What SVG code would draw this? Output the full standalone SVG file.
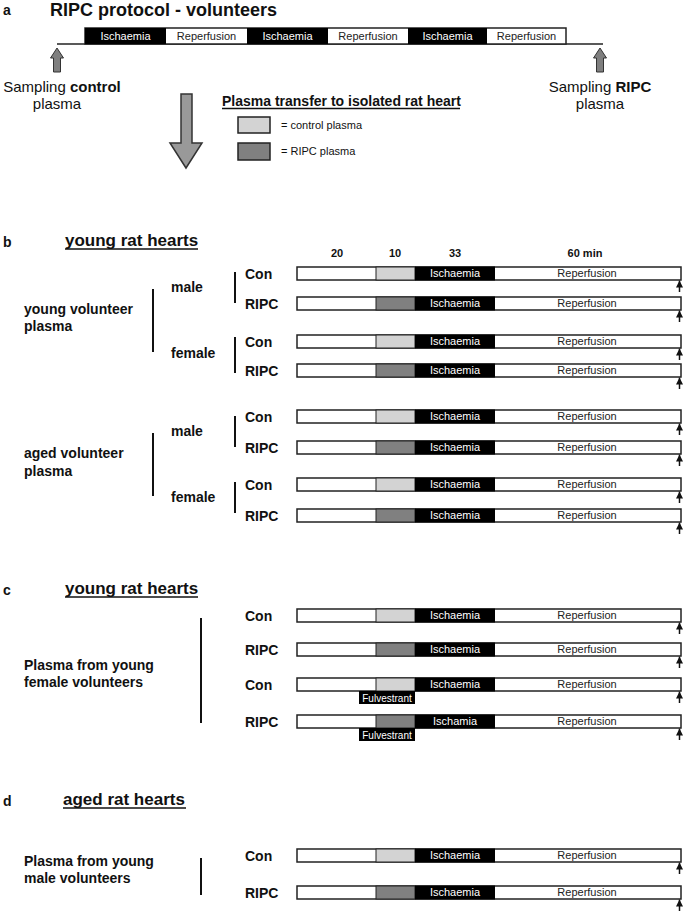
<svg xmlns="http://www.w3.org/2000/svg" width="685" height="912" viewBox="0 0 685 912">
<style>
text{font-family:"Liberation Sans",Arial,sans-serif;fill:#111}
.h{font-weight:bold;font-size:17px}
.lt{font-weight:bold;font-size:14px}
.lbl{font-weight:bold;font-size:14px}
.num{font-weight:bold;font-size:11px;text-anchor:middle}
.bt{font-size:11px;text-anchor:middle}
.w{fill:#fff}
.dk{fill:#222}
.leg{font-size:11px}
.bar{fill:#fff;stroke:#222;stroke-width:1.5}
.ctl{fill:#d3d3d3;stroke:#222;stroke-width:1}
.rip{fill:#808080;stroke:#222;stroke-width:1}
.isch{fill:#000}
.brk{stroke:#111;stroke-width:2}
.ul{stroke:#111;stroke-width:1.3}
.arr{stroke:#111;stroke-width:1.5;marker-end:url(#ah)}
.garr{fill:#7f7f7f;stroke:#333;stroke-width:1}
.fv{font-size:10px;text-anchor:middle;fill:#fff}
</style>
<defs>
<marker id="ah" viewBox="0 0 8 8" refX="8" refY="4" markerWidth="7" markerHeight="7" markerUnits="userSpaceOnUse" orient="auto">
<path d="M0,0 L8,4 L0,8 z" fill="#111"/>
</marker>
</defs>

<!-- Section a -->
<g id="sec-a">
<text x="3" y="15" class="lt">a</text>
<text x="50" y="16" class="h" style="font-size:18px">RIPC protocol - volunteers</text>
<line x1="57" y1="44" x2="603" y2="44" stroke="#222" stroke-width="1.5"/>
<rect x="85" y="28" width="481" height="16" class="bar"/>
<rect x="85" y="28" width="81" height="16" class="isch"/>
<rect x="247" y="28" width="81" height="16" class="isch"/>
<rect x="408" y="28" width="79" height="16" class="isch"/>
<text x="125.5" y="40" class="bt w">Ischaemia</text>
<text x="206.5" y="40" class="bt dk">Reperfusion</text>
<text x="287.5" y="40" class="bt w">Ischaemia</text>
<text x="368" y="40" class="bt dk">Reperfusion</text>
<text x="447.5" y="40" class="bt w">Ischaemia</text>
<text x="526.5" y="40" class="bt dk">Reperfusion</text>
</g>
<g id="sample-control">
<path class="garr" d="M57,48 L63.5,58 L60.5,58 L60.5,72 L53.5,72 L53.5,58 L50.5,58 Z"/>
<text x="62" y="92" style="font-size:15px;text-anchor:middle">Sampling <tspan font-weight="bold">control</tspan></text>
<text x="57" y="109" style="font-size:15px;text-anchor:middle">plasma</text>
</g>
<g id="sample-ripc">
<path class="garr" d="M600,48 L606.5,58 L603.5,58 L603.5,72 L596.5,72 L596.5,58 L593.5,58 Z"/>
<text x="600" y="92" style="font-size:15px;text-anchor:middle">Sampling <tspan font-weight="bold">RIPC</tspan></text>
<text x="600" y="109" style="font-size:15px;text-anchor:middle">plasma</text>
</g>
<g id="transfer-arrow">
<path d="M181,94 H192 V143 H202 L186,168 L170,143 H181 Z" fill="#999" stroke="#333" stroke-width="1.5"/>
</g>
<g id="legend">
<text x="222" y="106" class="lt">Plasma transfer to isolated rat heart</text>
<line x1="222" y1="108.5" x2="460" y2="108.5" class="ul"/>
<rect x="238" y="117" width="32" height="16" fill="#d3d3d3" stroke="#222" stroke-width="1.5"/>
<rect x="238" y="143" width="32" height="17" fill="#808080" stroke="#222" stroke-width="1.5"/>
<text x="281" y="128.5" class="leg">= control plasma</text>
<text x="281" y="155" class="leg">= RIPC plasma</text>
</g>

<!-- Section b -->
<g id="sec-b-head">
<text x="3" y="247" class="lt">b</text>
<text x="65" y="246" class="h">young rat hearts</text>
<line x1="65" y1="249" x2="198" y2="249" class="ul"/>
<text x="337" y="257" class="num">20</text>
<text x="395" y="257" class="num">10</text>
<text x="455" y="257" class="num">33</text>
<text x="585" y="257" class="num">60 min</text>
</g>
<g id="grp-young-vol">
<text x="24" y="314" class="lt">young volunteer</text>
<text x="24" y="331" class="lt">plasma</text>
<text x="171" y="292" class="lt">male</text>
<text x="171" y="358" class="lt">female</text>
</g>
<g id="grp-aged-vol">
<text x="24" y="458" class="lt">aged volunteer</text>
<text x="24" y="476" class="lt">plasma</text>
<text x="171" y="436" class="lt">male</text>
<text x="171" y="502" class="lt">female</text>
</g>

<g id="b-ym-con">
<text class="lbl" x="245" y="279">Con</text>
<rect class="bar" x="297" y="267" width="384" height="13"/>
<rect class="ctl" x="376" y="267" width="39" height="13"/>
<rect class="isch" x="415" y="266.5" width="80" height="14"/>
<text class="bt w" x="455" y="277">Ischaemia</text>
<text class="bt dk" x="587" y="277">Reperfusion</text>
</g>
<g id="b-ym-ripc">
<text class="lbl" x="245" y="309">RIPC</text>
<rect class="bar" x="297" y="297" width="384" height="13"/>
<rect class="rip" x="376" y="297" width="39" height="13"/>
<rect class="isch" x="415" y="296.5" width="80" height="14"/>
<text class="bt w" x="455" y="307">Ischaemia</text>
<text class="bt dk" x="587" y="307">Reperfusion</text>
</g>
<g id="b-yf-con">
<text class="lbl" x="245" y="347">Con</text>
<rect class="bar" x="297" y="335" width="384" height="13"/>
<rect class="ctl" x="376" y="335" width="39" height="13"/>
<rect class="isch" x="415" y="334.5" width="80" height="14"/>
<text class="bt w" x="455" y="345">Ischaemia</text>
<text class="bt dk" x="587" y="345">Reperfusion</text>
</g>
<g id="b-yf-ripc">
<text class="lbl" x="245" y="376">RIPC</text>
<rect class="bar" x="297" y="364" width="384" height="13"/>
<rect class="rip" x="376" y="364" width="39" height="13"/>
<rect class="isch" x="415" y="363.5" width="80" height="14"/>
<text class="bt w" x="455" y="374">Ischaemia</text>
<text class="bt dk" x="587" y="374">Reperfusion</text>
</g>
<g id="b-am-con">
<text class="lbl" x="245" y="422">Con</text>
<rect class="bar" x="297" y="410" width="384" height="13"/>
<rect class="ctl" x="376" y="410" width="39" height="13"/>
<rect class="isch" x="415" y="409.5" width="80" height="14"/>
<text class="bt w" x="455" y="420">Ischaemia</text>
<text class="bt dk" x="587" y="420">Reperfusion</text>
</g>
<g id="b-am-ripc">
<text class="lbl" x="245" y="453">RIPC</text>
<rect class="bar" x="297" y="441" width="384" height="13"/>
<rect class="rip" x="376" y="441" width="39" height="13"/>
<rect class="isch" x="415" y="440.5" width="80" height="14"/>
<text class="bt w" x="455" y="451">Ischaemia</text>
<text class="bt dk" x="587" y="451">Reperfusion</text>
</g>
<g id="b-af-con">
<text class="lbl" x="245" y="490">Con</text>
<rect class="bar" x="297" y="478" width="384" height="13"/>
<rect class="ctl" x="376" y="478" width="39" height="13"/>
<rect class="isch" x="415" y="477.5" width="80" height="14"/>
<text class="bt w" x="455" y="488">Ischaemia</text>
<text class="bt dk" x="587" y="488">Reperfusion</text>
</g>
<g id="b-af-ripc">
<text class="lbl" x="245" y="521">RIPC</text>
<rect class="bar" x="297" y="509" width="384" height="13"/>
<rect class="rip" x="376" y="509" width="39" height="13"/>
<rect class="isch" x="415" y="508.5" width="80" height="14"/>
<text class="bt w" x="455" y="519">Ischaemia</text>
<text class="bt dk" x="587" y="519">Reperfusion</text>
</g>

<!-- Section c -->
<g id="sec-c-head">
<text x="3" y="595" class="lt">c</text>
<text x="65" y="594" class="h">young rat hearts</text>
<line x1="65" y1="597" x2="198" y2="597" class="ul"/>
</g>
<g id="grp-c">
<text x="24" y="670" class="lt">Plasma from young</text>
<text x="24" y="687" class="lt">female volunteers</text>
</g>
<g id="c-con">
<text class="lbl" x="245" y="621">Con</text>
<rect class="bar" x="297" y="609" width="384" height="13"/>
<rect class="ctl" x="376" y="609" width="39" height="13"/>
<rect class="isch" x="415" y="608.5" width="80" height="14"/>
<text class="bt w" x="455" y="619">Ischaemia</text>
<text class="bt dk" x="587" y="619">Reperfusion</text>
</g>
<g id="c-ripc">
<text class="lbl" x="245" y="655">RIPC</text>
<rect class="bar" x="297" y="643" width="384" height="13"/>
<rect class="rip" x="376" y="643" width="39" height="13"/>
<rect class="isch" x="415" y="642.5" width="80" height="14"/>
<text class="bt w" x="455" y="653">Ischaemia</text>
<text class="bt dk" x="587" y="653">Reperfusion</text>
</g>
<g id="c-con-fulv">
<text class="lbl" x="245" y="690">Con</text>
<rect class="bar" x="297" y="678" width="384" height="13"/>
<rect class="ctl" x="376" y="678" width="39" height="13"/>
<rect class="isch" x="415" y="677.5" width="80" height="14"/>
<text class="bt w" x="455" y="688">Ischaemia</text>
<text class="bt dk" x="587" y="688">Reperfusion</text>
<rect x="359" y="691" width="56" height="13" fill="#000"/>
<text class="fv" x="387" y="701.5">Fulvestrant</text>
</g>
<g id="c-ripc-fulv">
<text class="lbl" x="245" y="727">RIPC</text>
<rect class="bar" x="297" y="715" width="384" height="13"/>
<rect class="rip" x="376" y="715" width="39" height="13"/>
<rect class="isch" x="415" y="714.5" width="80" height="14"/>
<text class="bt w" x="455" y="725">Ischamia</text>
<text class="bt dk" x="587" y="725">Reperfusion</text>
<rect x="359" y="728" width="56" height="13" fill="#000"/>
<text class="fv" x="387" y="738.5">Fulvestrant</text>
</g>

<!-- Section d -->
<g id="sec-d-head">
<text x="3" y="806" class="lt">d</text>
<text x="63" y="805" class="h">aged rat hearts</text>
<line x1="63" y1="808" x2="186" y2="808" class="ul"/>
</g>
<g id="grp-d">
<text x="24" y="866" class="lt">Plasma from young</text>
<text x="24" y="883" class="lt">male volunteers</text>
</g>
<g id="d-con">
<text class="lbl" x="245" y="861">Con</text>
<rect class="bar" x="297" y="849" width="384" height="13"/>
<rect class="ctl" x="376" y="849" width="39" height="13"/>
<rect class="isch" x="415" y="848.5" width="80" height="14"/>
<text class="bt w" x="455" y="859">Ischaemia</text>
<text class="bt dk" x="587" y="859">Reperfusion</text>
</g>
<g id="d-ripc">
<text class="lbl" x="245" y="898">RIPC</text>
<rect class="bar" x="297" y="886" width="384" height="13"/>
<rect class="rip" x="376" y="886" width="39" height="13"/>
<rect class="isch" x="415" y="885.5" width="80" height="14"/>
<text class="bt w" x="455" y="896">Ischaemia</text>
<text class="bt dk" x="587" y="896">Reperfusion</text>
</g>

<!-- Brackets and sampling arrows -->
<g id="connectors">
<line class="brk" x1="153" y1="289" x2="153" y2="352"/>
<line class="brk" x1="235" y1="272" x2="235" y2="303"/>
<line class="brk" x1="235" y1="337" x2="235" y2="373"/>
<line class="brk" x1="153" y1="433" x2="153" y2="496"/>
<line class="brk" x1="235" y1="416" x2="235" y2="447"/>
<line class="brk" x1="235" y1="482" x2="235" y2="513"/>
<line class="brk" x1="201" y1="618" x2="201" y2="723"/>
<line class="brk" x1="201" y1="858" x2="201" y2="895"/>
<line class="arr" x1="679.5" y1="292" x2="679.5" y2="280.5"/>
<line class="arr" x1="679.5" y1="322" x2="679.5" y2="310.5"/>
<line class="arr" x1="679.5" y1="360" x2="679.5" y2="348.5"/>
<line class="arr" x1="679.5" y1="389" x2="679.5" y2="377.5"/>
<line class="arr" x1="679.5" y1="435" x2="679.5" y2="423.5"/>
<line class="arr" x1="679.5" y1="466" x2="679.5" y2="454.5"/>
<line class="arr" x1="679.5" y1="503" x2="679.5" y2="491.5"/>
<line class="arr" x1="679.5" y1="534" x2="679.5" y2="522.5"/>
<line class="arr" x1="679.5" y1="634" x2="679.5" y2="622.5"/>
<line class="arr" x1="679.5" y1="668" x2="679.5" y2="656.5"/>
<line class="arr" x1="679.5" y1="703" x2="679.5" y2="691.5"/>
<line class="arr" x1="679.5" y1="740" x2="679.5" y2="728.5"/>
<line class="arr" x1="679.5" y1="874" x2="679.5" y2="862.5"/>
<line class="arr" x1="679.5" y1="911" x2="679.5" y2="899.5"/>
</g>
</svg>
